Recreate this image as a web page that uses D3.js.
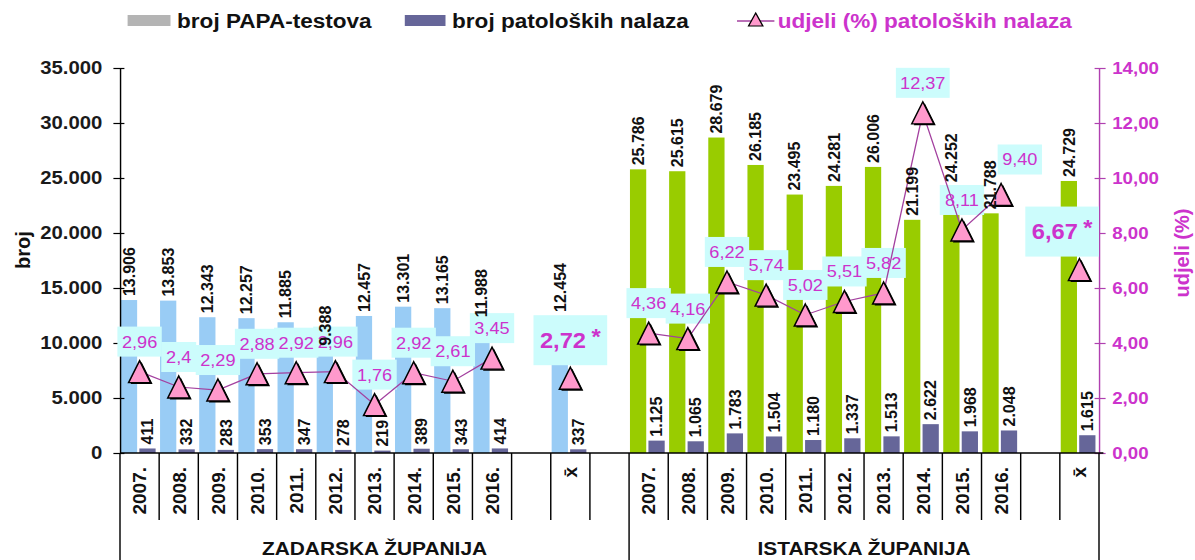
<!DOCTYPE html>
<html>
<head>
<meta charset="utf-8">
<script src="https://cdn.jsdelivr.net/npm/d3@7"></script>
<style>
  body { margin: 0; background: #fff; }
  svg { display: block; }
  text { font-family: "Liberation Sans", Arial, sans-serif; }
</style>
</head>
<body>
<svg id="chart" width="1195" height="560"></svg>
<script>
// PAPA tests vs. pathological findings, Zadar & Istria counties 2007–2016
const YEARS = ["2007.", "2008.", "2009.", "2010.", "2011.", "2012.", "2013.", "2014.", "2015.", "2016."];
const MEAN_LABEL = "x\u0304";
const COUNTIES = ["ZADARSKA ŽUPANIJA", "ISTARSKA ŽUPANIJA"];

const ZADAR_TESTS = [13906, 13853, 12343, 12257, 11885, 9388, 12457, 13301, 13165, 11988];
const ZADAR_PATHO = [411, 332, 283, 353, 347, 278, 219, 389, 343, 414];
const ZADAR_PCT = [2.96, 2.4, 2.29, 2.88, 2.92, 2.96, 1.76, 2.92, 2.61, 3.45];
const ZADAR_PCT_LABELS = ["2,96", "2,4", "2,29", "2,88", "2,92", "2,96", "1,76", "2,92", "2,61", "3,45"];

const ISTRA_TESTS = [25786, 25615, 28679, 26185, 23495, 24281, 26006, 21199, 24252, 21788];
const ISTRA_PATHO = [1125, 1065, 1783, 1504, 1180, 1337, 1513, 2622, 1968, 2048];
const ISTRA_PCT = [4.36, 4.16, 6.22, 5.74, 5.02, 5.51, 5.82, 12.37, 8.11, 9.40];
const ISTRA_PCT_LABELS = ["4,36", "4,16", "6,22", "5,74", "5,02", "5,51", "5,82", "12,37", "8,11", "9,40"];

const MEAN_TESTS = [12454, 24729];
const MEAN_PATHO = [337, 1615];
const MEAN_PCT = [2.72, 6.67];
const MEAN_PCT_LABELS = ["2,72", "6,67"];

const LEFT_TICKS = [0, 5000, 10000, 15000, 20000, 25000, 30000, 35000];
const RIGHT_TICKS = [0, 2, 4, 6, 8, 10, 12, 14];

const LEGEND = ["broj PAPA-testova", "broj patoloških nalaza", "udjeli (%) patoloških nalaza"];

const TEST_COLORS = ["#99ccf5", "#99cc00"], PATHO = "#666699", LEGEND_GRAY = "#b4b4b4";
const MAGENTA = "#cc33cc", LINE = "#a3409f", BOX = "#ccfcfc", PINK = "#ff99cc";

const hr = d3.formatLocale({decimal: ",", thousands: ".", grouping: [3], currency: ["", ""]});
const fmtInt = hr.format(",.0f"), fmtPct = hr.format(",.2f");

// the source image is stretched horizontally, so draw in a scaled group
const SX = 1.1;
const svg = d3.select("#chart");
const g = svg.append("g").attr("transform", `scale(${SX},1)`);

// categories: 10 years, gap, mean, gap | 10 years, gap, mean
const groups = [
  {tests: ZADAR_TESTS, patho: ZADAR_PATHO, pct: ZADAR_PCT, labels: ZADAR_PCT_LABELS, key: "Z"},
  {tests: ISTRA_TESTS, patho: ISTRA_PATHO, pct: ISTRA_PCT, labels: ISTRA_PCT_LABELS, key: "I"}
];
const cats = [], rows = [];
groups.forEach((gr, gi) => {
  YEARS.forEach((yr, i) => {
    const id = gr.key + i;
    cats.push(id);
    rows.push({id, gi, i, label: yr, tests: gr.tests[i], patho: gr.patho[i],
               pct: gr.pct[i], pctLabel: gr.labels[i], mean: false});
  });
  cats.push(gr.key + "gap");
  const mid = gr.key + "mean";
  cats.push(mid);
  rows.push({id: mid, gi, i: -1, label: MEAN_LABEL, tests: MEAN_TESTS[gi], patho: MEAN_PATHO[gi],
             pct: MEAN_PCT[gi], pctLabel: MEAN_PCT_LABELS[gi], mean: true});
  if (gi === 0) cats.push("sep");
});

const x = d3.scaleBand(cats, [120 / SX, 1099 / SX]);
const sub = d3.scaleBand(["tests", "patho"], [0, x.bandwidth()])
  .paddingInner(0.12).paddingOuter(0.12).align(0.2);
const y = d3.scaleLinear([0, 35000], [453, 68]);
const y2 = d3.scaleLinear([0, 14], [453, 68]);
const [x0, x1] = x.range();
const cx = d => x(d.id) + x.bandwidth() / 2;

// bars
g.append("g").selectAll("rect").data(rows).join("rect")
  .attr("x", d => x(d.id) + sub("tests")).attr("width", sub.bandwidth())
  .attr("y", d => y(d.tests)).attr("height", d => y(0) - y(d.tests))
  .attr("fill", d => TEST_COLORS[d.gi]);
g.append("g").selectAll("rect").data(rows).join("rect")
  .attr("x", d => x(d.id) + sub("patho")).attr("width", sub.bandwidth())
  .attr("y", d => y(d.patho)).attr("height", d => y(0) - y(d.patho))
  .attr("fill", PATHO);

// axes
const yAxis = g.append("g").attr("transform", `translate(${x0},0)`)
  .call(d3.axisLeft(y).tickValues(LEFT_TICKS).tickFormat(fmtInt).tickSizeInner(6).tickSizeOuter(0).tickPadding(10));
yAxis.select(".domain").attr("stroke", "#000").attr("stroke-width", 1.3);
yAxis.selectAll(".tick line").attr("x1", 4).attr("stroke", "#000").attr("stroke-width", 1.2);
yAxis.selectAll(".tick text").attr("font-size", 18.5).attr("font-weight", "bold").attr("fill", "#1a1a1a");
yAxis.attr("font-family", null);

const y2Axis = g.append("g").attr("transform", `translate(${x1},0)`)
  .call(d3.axisRight(y2).tickValues(RIGHT_TICKS).tickFormat(fmtPct).tickSizeInner(6).tickSizeOuter(0).tickPadding(6));
y2Axis.select(".domain").attr("stroke", "#b040b0").attr("stroke-width", 1.3);
y2Axis.selectAll(".tick line").attr("x1", -4).attr("stroke", "#b040b0").attr("stroke-width", 1.2);
y2Axis.selectAll(".tick text").attr("font-size", 17).attr("font-weight", "bold").attr("fill", MAGENTA);
y2Axis.attr("font-family", null);

// category axis: baseline and dividers
g.append("line").attr("x1", x0).attr("x2", x1 + 4).attr("y1", y(0)).attr("y2", y(0))
  .attr("stroke", "#000").attr("stroke-width", 1.3);
const bounds = cats.map(c => x(c)).concat([x1]);
const longIdx = new Set([0, cats.indexOf("I0"), cats.length]);
g.append("g").selectAll("line").data(bounds).join("line")
  .attr("x1", d => d).attr("x2", d => d)
  .attr("y1", y(0)).attr("y2", (d, i) => longIdx.has(i) ? 560 : 520)
  .attr("stroke", "#000").attr("stroke-width", 1.3);

g.append("g").selectAll("text").data(COUNTIES).join("text")
  .attr("x", (d, i) => i === 0 ? (x0 + x("I0")) / 2 : (x("I0") + x1) / 2)
  .attr("y", 555).attr("text-anchor", "middle")
  .attr("font-size", 19).attr("font-weight", "bold").attr("fill", "#111")
  .text(d => d);

// percentage label boxes (drawn under the line and markers)
function labelPos(d) {
  const fs = d.mean ? 21.5 : 16.5;
  const w = d.mean ? 67 : d.pctLabel.length * 0.52 * fs + 6;
  const h = d.mean ? 50 : 30;
  let lx = cx(d), ly = y2(d.pct) - (d.mean ? 38 : 30);
  if (d.gi === 1 && d.i === 9) { lx += 17; ly -= 5; }
  lx = Math.min(lx, x1 - w / 2);
  return {lx, ly, w, h, fs};
}
rows.forEach(d => d.lp = labelPos(d));
g.append("g").selectAll("rect").data(rows).join("rect")
  .attr("x", d => d.lp.lx - d.lp.w / 2).attr("y", d => d.lp.ly - d.lp.h / 2)
  .attr("width", d => d.lp.w).attr("height", d => d.lp.h)
  .attr("fill", BOX);

// percentage lines, one per county
const line = d3.line().x(cx).y(d => y2(d.pct));
g.append("g").selectAll("path").data([0, 1]).join("path")
  .attr("d", gi => line(rows.filter(r => r.gi === gi && !r.mean)))
  .attr("fill", "none").attr("stroke", LINE).attr("stroke-width", 1.2);

// percentage label texts
const pt = g.append("g").selectAll("text").data(rows).join("text")
  .attr("x", d => d.lp.lx).attr("y", d => d.lp.ly).attr("dy", "0.36em")
  .attr("text-anchor", "middle")
  .attr("font-size", d => d.lp.fs).attr("font-weight", d => d.mean ? "bold" : "normal")
  .attr("fill", MAGENTA);
pt.append("tspan").text(d => d.pctLabel);
pt.filter(d => d.mean).append("tspan").attr("dx", 5).attr("dy", -4).text("*");

// legend
const lg = g.append("g");
lg.append("rect").attr("x", 116).attr("y", 15).attr("width", 39).attr("height", 11).attr("fill", LEGEND_GRAY);
lg.append("rect").attr("x", 368).attr("y", 15).attr("width", 37).attr("height", 11).attr("fill", PATHO);
lg.append("line").attr("x1", 670).attr("x2", 704).attr("y1", 21).attr("y2", 21)
  .attr("stroke", LINE).attr("stroke-width", 1.5);
lg.append("path").attr("d", "M0,-7L6.5,6L-6.5,6Z").attr("transform", "translate(687,20)")
  .attr("fill", PINK).attr("stroke", "#000").attr("stroke-width", 1.2);
lg.selectAll("text").data(LEGEND).join("text")
  .attr("x", (d, i) => [161, 411, 707][i]).attr("y", 28)
  .attr("font-size", 20.5).attr("font-weight", "bold")
  .attr("fill", (d, i) => i === 2 ? MAGENTA : "#111")
  .text(d => d);

// rotated texts are placed in screen coordinates, outside the scaled group
const sg = svg.append("g");
function vtext(data, anchor) {
  return sg.append("g").selectAll("text").data(data).join("text")
    .attr("x", d => d.px).attr("y", d => d.py)
    .attr("transform", d => `rotate(-90 ${d.px} ${d.py})`)
    .attr("text-anchor", anchor).attr("dy", "0.36em")
    .attr("font-weight", "bold").attr("fill", "#111")
    .text(d => d.t);
}

// count labels above each bar
const countData = [];
rows.forEach(d => ["tests", "patho"].forEach(key => countData.push({
  px: SX * (x(d.id) + sub(key) + sub.bandwidth() / 2), py: y(d[key]) - 4, t: fmtInt(d[key])
})));
vtext(countData, "start").attr("font-size", 16);

// year / mean labels under the axis
vtext(rows.map(d => ({px: SX * cx(d), py: 467, t: d.label})), "end").attr("font-size", 19);

// axis titles
vtext([{px: 23, py: 250, t: "broj"}], "middle").attr("font-size", 20);
vtext([{px: 1182, py: 253, t: "udjeli (%)"}], "middle").attr("font-size", 20).attr("fill", MAGENTA);

// triangle markers on top of everything
const tri = "M0,-11L10,11L-10,11Z";
const mk = g.append("g").selectAll("g").data(rows).join("g")
  .attr("transform", d => `translate(${cx(d)},${y2(d.pct)})`);
mk.append("path").attr("d", tri).attr("transform", "translate(1.8,1.5)").attr("fill", "#000");
mk.append("path").attr("d", tri).attr("fill", PINK).attr("stroke", "#000").attr("stroke-width", 1.4);
</script>
</body>
</html>
